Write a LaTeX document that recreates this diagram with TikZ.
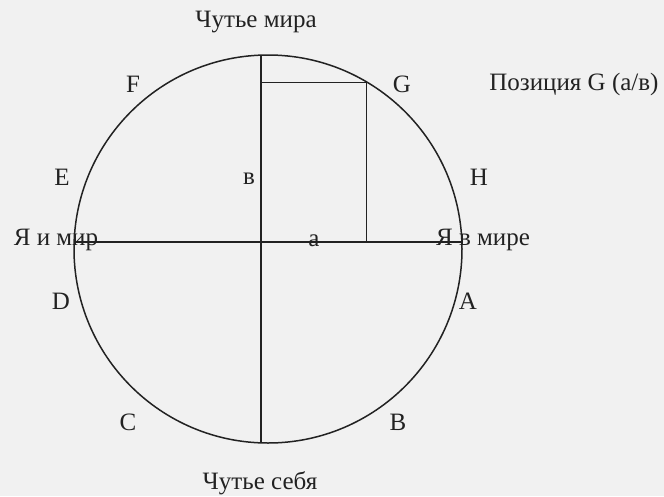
\documentclass[tikz,border=0pt]{standalone}
\usepackage{fontspec}
\setmainfont{Liberation Serif}
\definecolor{paper}{HTML}{F1F1F1}
\definecolor{ink}{HTML}{222222}
\begin{document}
\begin{tikzpicture}[x=1pt,y=-1pt,
  lbl/.style={text=ink,font=\fontsize{25}{27}\selectfont,inner sep=0pt},
  ln/.style={draw=ink,line width=1.5pt}]
\fill[paper] (0,0) rectangle (664,496);
\useasboundingbox (0,0) rectangle (664,496);
% circle
\node[circle,ln,minimum size=388pt,inner sep=0pt] (circ) at (268,249) {};
% coordinates
\coordinate (vtop) at (261,55.1);
\coordinate (vbot) at (261,442.9);
\coordinate (hl) at (74.1,242);
\coordinate (hr) at (461.9,242);
\coordinate (gp) at (366.7,82.7);
\coordinate (gl) at (261,82.7);
\coordinate (gf) at (366.7,242);
% lines
\draw[ln] (vtop) -- (vbot);
\draw[ln] (hl) -- (hr);
\draw[ln] (gl) -- (gp) -- (gf);
% labels
\node[lbl] (tmira) at (256,22) {Чутье мира};
\node[lbl] (tsebya) at (260,483) {Чутье себя};
\node[lbl] (F) at (133,84) {F};
\node[lbl] (G) at (402,84) {G};
\node[lbl] (pos) at (574,84) {Позиция G (а/в)};
\node[lbl] (E) at (62,177) {E};
\node[lbl] (vv) at (249,179) {в};
\node[lbl] (H) at (479,177) {H};
\node[lbl] (yim) at (56,240) {Я и мир};
\node[lbl] (aa) at (314,241) {а};
\node[lbl] (yvm) at (483,240) {Я в мире};
\node[lbl] (D) at (61,301) {D};
\node[lbl] (A) at (468,301) {A};
\node[lbl] (C) at (128,422) {C};
\node[lbl] (B) at (398,422) {B};
\end{tikzpicture}
\end{document}
